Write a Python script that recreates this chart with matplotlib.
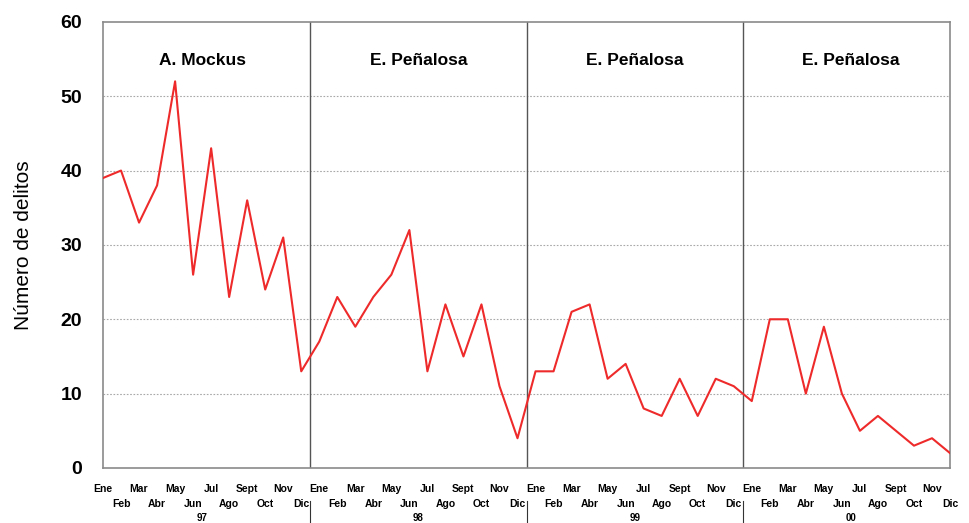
import numpy as np
import matplotlib
matplotlib.use("Agg")
import matplotlib.pyplot as plt
import matplotlib.transforms as mtransforms

plt.rcParams['font.family'] = ['Liberation Sans', 'DejaVu Sans']

# datos mensuales (número de delitos)
meses_arriba = ["Ene", "Mar", "May", "Jul", "Sept", "Nov"]
meses_abajo = ["Feb", "Abr", "Jun", "Ago", "Oct", "Dic"]
anios = ["97", "98", "99", "00"]
alcaldes = ["A. Mockus", "E. Peñalosa", "E. Peñalosa", "E. Peñalosa"]

delitos_97 = [39, 40, 33, 38, 52, 26, 43, 23, 36, 24, 31, 13]
delitos_98 = [17, 23, 19, 23, 26, 32, 13, 22, 15, 22, 11, 4]
delitos_99 = [13, 13, 21, 22, 12, 14, 8, 7, 12, 7, 12, 11]
delitos_00 = [9, 20, 20, 10, 19, 10, 5, 7, 5, 3, 4, 2]

valores = delitos_97 + delitos_98 + delitos_99 + delitos_00
x = np.arange(len(valores))

fig = plt.figure(figsize=(9.7, 5.23), dpi=100)
ax = fig.add_axes([0.1062, 0.1052, 0.8732, 0.853])

# rejilla punteada
for yv in [10, 20, 30, 40, 50]:
    ax.axhline(yv, color='#a8a8a8', linestyle=(0, (1.5, 1.5)), linewidth=0.8, zorder=1)

# separadores de año
sep = [11.5, 23.5, 35.5]
for s in sep:
    ax.axvline(s, color='#555555', linewidth=1.0, zorder=2)

ax.plot(x, valores, color='#ee2a2a', linewidth=1.5, zorder=3)

ax.set_xlim(0, 47)
ax.set_ylim(0, 60)
ax.set_yticks(range(0, 61, 10))
for lbl in ax.get_yticklabels():
    lbl.set_fontweight('bold')
    lbl.set_fontsize(14)
ax.tick_params(axis='y', length=0, pad=15)

for sp in ax.spines.values():
    sp.set_color('#8a8a8a')
    sp.set_linewidth(1.2)

ax.set_ylabel("Número de delitos", fontsize=15)
ax.yaxis.set_label_coords(-0.083, 0.5)

# etiquetas de meses en dos filas
ax.set_xticks([])
trans = mtransforms.blended_transform_factory(ax.transData, ax.transAxes)
for k in range(4):
    for j in range(6):
        ax.text(12 * k + 2 * j, -0.047, meses_arriba[j], transform=trans,
                ha='center', va='center', fontsize=7.5, fontweight='bold')
        ax.text(12 * k + 2 * j + 1, -0.08, meses_abajo[j], transform=trans,
                ha='center', va='center', fontsize=7.5, fontweight='bold')
    ax.text(12 * k + 5.5, -0.113, anios[k], transform=trans,
            ha='center', va='center', fontsize=7, fontweight='bold')
    ax.text(12 * k + 5.5, 54.8, alcaldes[k], ha='center', va='center',
            fontsize=12.5, fontweight='bold')

# marcas largas en los cambios de año
for s in sep:
    ax.plot([s, s], [-0.075, -0.13], transform=trans, color='#333333',
            linewidth=0.8, clip_on=False)

plt.savefig("out.png", dpi=100)
